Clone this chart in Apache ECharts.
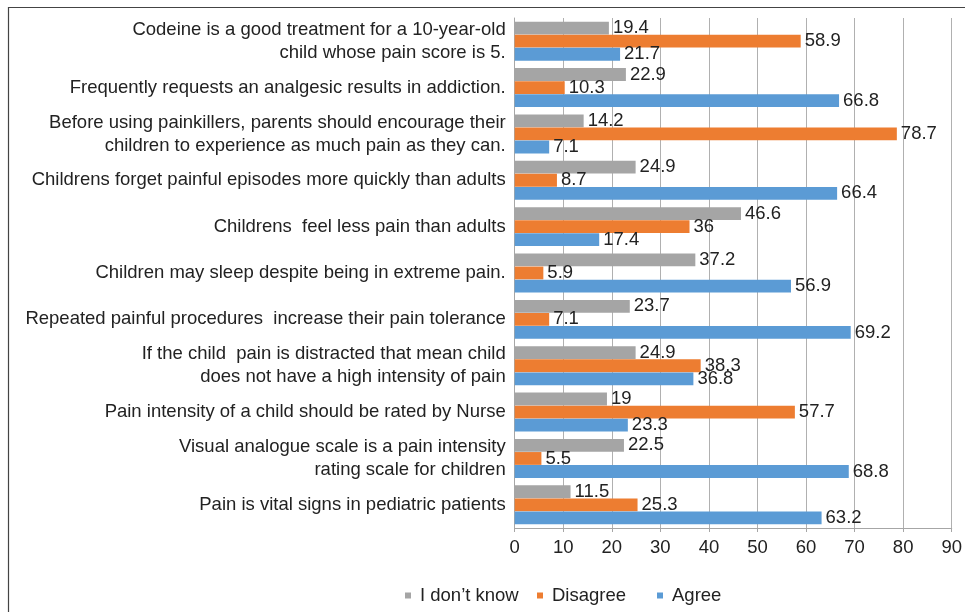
<!DOCTYPE html>
<html>
<head>
<meta charset="utf-8">
<script src="https://cdn.jsdelivr.net/npm/echarts@6/dist/echarts.min.js"></script>
<style>html,body{margin:0;padding:0;background:#fff}#c{width:965px;height:612px}</style>
</head>
<body>
<div id="c"></div>
<script>
const categories = [
  "Codeine is a good treatment for a 10-year-old\nchild whose pain score is 5.",
  "Frequently requests an analgesic results in addiction.",
  "Before using painkillers, parents should encourage their\nchildren to experience as much pain as they can.",
  "Childrens forget painful episodes more quickly than adults",
  "Childrens  feel less pain than adults",
  "Children may sleep despite being in extreme pain.",
  "Repeated painful procedures  increase their pain tolerance",
  "If the child  pain is distracted that mean child\ndoes not have a high intensity of pain",
  "Pain intensity of a child should be rated by Nurse",
  "Visual analogue scale is a pain intensity\nrating scale for children",
  "Pain is vital signs in pediatric patients"
];
const dontKnow = [19.4, 22.9, 14.2, 24.9, 46.6, 37.2, 23.7, 24.9, 19, 22.5, 11.5];
const disagree = [58.9, 10.3, 78.7, 8.7, 36, 5.9, 7.1, 38.3, 57.7, 5.5, 25.3];
const agree = [21.7, 66.8, 7.1, 66.4, 17.4, 56.9, 69.2, 36.8, 23.3, 68.8, 63.2];
const seriesNames = ["I don\u2019t know", "Disagree", "Agree"];
const xTicks = [0, 10, 20, 30, 40, 50, 60, 70, 80, 90];

const FONT = "'Liberation Sans', Arial, sans-serif";
const FS = 18.5;
const chart = echarts.init(document.getElementById('c'), null, {renderer: 'canvas'});
const colors = ['#A5A5A5', '#ED7D31', '#5B9BD5'];
const datasets = [dontKnow, disagree, agree];
const legendLefts = [400, 532, 652];

chart.setOption({
  animation: false,
  color: colors,
  textStyle: {fontFamily: FONT},
  grid: {left: 514.7, right: 6.3, top: 18, bottom: 84, containLabel: false},
  xAxis: {
    type: 'value', min: xTicks[0], max: xTicks[xTicks.length - 1], interval: 10,
    axisLine: {show: true, lineStyle: {color: '#a6a6a6', width: 1}},
    axisTick: {show: true, length: 4, lineStyle: {color: '#a6a6a6'}},
    axisLabel: {fontSize: FS, color: '#222', fontFamily: FONT, margin: 10},
    splitLine: {show: true, lineStyle: {color: '#b0b0b0', width: 1}}
  },
  yAxis: {
    type: 'category', data: categories, inverse: true,
    axisLine: {show: true, lineStyle: {color: '#a6a6a6', width: 1}},
    axisTick: {show: false},
    axisLabel: {fontSize: FS, color: '#222', fontFamily: FONT, margin: 9, lineHeight: 23, align: 'right'}
  },
  legend: seriesNames.map((n, i) => ({
    data: [n], left: legendLefts[i], top: 581, itemWidth: 6, itemHeight: 6, icon: 'rect',
    textStyle: {fontSize: FS, color: '#222', fontFamily: FONT, padding: [0, 0, 0, 4]}
  })),
  graphic: [{
    type: 'rect', shape: {x: 8.5, y: 7.5, width: 1000, height: 700},
    style: {fill: null, stroke: '#444', lineWidth: 1.2}, silent: true, z: 100
  }],
  series: seriesNames.map((n, i) => ({
    name: n, type: 'bar', data: datasets[i],
    barGap: '2%', barCategoryGap: '16%',
    label: {show: true, position: 'right', distance: 4, fontSize: FS, color: '#222', fontFamily: FONT}
  }))
});
</script>
</body>
</html>
